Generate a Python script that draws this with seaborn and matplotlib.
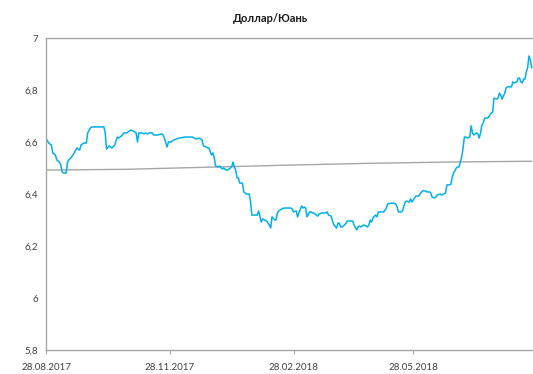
import numpy as np
import pandas as pd
import matplotlib
matplotlib.use("Agg")
import matplotlib.pyplot as plt
import matplotlib.dates as mdates
from matplotlib.ticker import FuncFormatter
import seaborn as sns

# USD/CNY exchange rate: days since 28.08.2017 and the rate on that day
start_date = "2017-08-28"
rate_days = [
    0, 2, 4, 5, 7, 8, 10, 11, 12, 13, 15, 16, 17, 19, 21, 22, 23, 25, 26, 28,
    30, 31, 33, 34, 43, 44, 45, 47, 48, 49, 51, 53, 54, 56, 58, 60,
    63, 65, 67, 68, 69, 71, 73, 74, 75, 77, 79, 80, 83, 86, 87, 88, 90, 91,
    93, 95, 99, 103, 106, 109, 110, 112, 114, 116, 117, 119, 120,
    121, 123, 124, 125, 126, 128, 129, 131, 132, 134, 135, 138, 139, 140, 141,
    142, 143, 144, 146, 147, 149, 151, 152, 153, 155, 157, 158, 159, 160, 161,
    164, 165, 166, 167, 168, 170, 171, 172, 173, 175, 177, 179,
    182, 183, 184, 186, 187, 188, 190, 191, 192, 193, 194, 196, 197, 198, 199,
    201, 202, 203, 205, 206, 208, 209, 210, 212, 213, 214, 216, 217, 218, 219,
    220, 222, 223, 224, 227, 228, 229, 231, 232, 233, 234, 236, 238,
    239, 240, 241, 242, 243, 245, 246, 247, 249, 251, 253, 254, 257, 258, 260,
    261, 262, 264, 265, 267, 268, 270, 271, 272, 274, 275, 277, 278, 280, 282,
    283, 285, 286, 287, 289, 291, 293, 294, 297, 298, 300, 301, 302, 303, 305,
    306, 307, 309, 310, 311, 312, 313, 315, 316, 317, 318, 320, 321, 322, 323,
    324, 325, 326, 328, 329, 331, 332, 333, 335, 336, 337, 338, 339, 341, 342,
    343, 344, 346, 347, 348, 350, 351, 352, 353, 354, 355, 356, 357, 358, 359,
    360, 361,
]
rate_values = [
    6.615, 6.596, 6.588, 6.558, 6.550, 6.531, 6.523, 6.512, 6.485, 6.481, 6.481,
    6.523, 6.531, 6.542, 6.558, 6.569, 6.577, 6.569, 6.588, 6.596,
    6.596, 6.635, 6.654, 6.658, 6.658, 6.635, 6.573, 6.585, 6.581, 6.577, 6.588,
    6.619, 6.615, 6.623, 6.635, 6.635,
    6.646, 6.642, 6.635, 6.600, 6.635, 6.635, 6.631, 6.635, 6.631, 6.635, 6.635,
    6.627, 6.627, 6.631, 6.627, 6.615, 6.581, 6.600,
    6.600, 6.608, 6.615, 6.619, 6.619, 6.619, 6.615, 6.612, 6.615, 6.608, 6.585,
    6.581, 6.577,
    6.577, 6.550, 6.558, 6.542, 6.508, 6.504, 6.508, 6.496, 6.500, 6.492, 6.492,
    6.504, 6.523, 6.504, 6.492,
    6.462, 6.462, 6.442, 6.442, 6.408, 6.400, 6.400, 6.373, 6.319, 6.319, 6.319,
    6.335, 6.315, 6.292, 6.304,
    6.296, 6.288, 6.281, 6.269, 6.312, 6.300, 6.300, 6.327, 6.335, 6.342, 6.346,
    6.346,
    6.346, 6.342, 6.331, 6.335, 6.312, 6.327, 6.354, 6.346, 6.350, 6.346, 6.312,
    6.331, 6.331, 6.327, 6.327,
    6.319, 6.315, 6.323, 6.327, 6.327, 6.327, 6.331, 6.319, 6.315, 6.296, 6.281,
    6.269, 6.288, 6.288, 6.273,
    6.273, 6.281, 6.288, 6.296, 6.296, 6.296, 6.281, 6.262, 6.273, 6.277, 6.273,
    6.281, 6.277,
    6.273, 6.281, 6.300, 6.292, 6.308, 6.319, 6.312, 6.331, 6.331, 6.331, 6.346,
    6.362, 6.365, 6.365, 6.362,
    6.350, 6.331, 6.331, 6.335, 6.369, 6.373, 6.369, 6.381, 6.369, 6.385, 6.392,
    6.392, 6.400, 6.412, 6.412,
    6.408, 6.408, 6.404, 6.388, 6.385, 6.396, 6.400, 6.396, 6.404, 6.435, 6.435,
    6.438, 6.465, 6.481, 6.500,
    6.504, 6.504, 6.542, 6.577, 6.619, 6.619, 6.615, 6.619, 6.662, 6.635, 6.627,
    6.635, 6.631, 6.615, 6.635,
    6.665, 6.673, 6.692, 6.692, 6.696, 6.712, 6.715, 6.769, 6.765, 6.769, 6.788,
    6.781, 6.765, 6.788, 6.808,
    6.812, 6.812, 6.812, 6.831, 6.827, 6.831, 6.846, 6.846, 6.831, 6.827, 6.842,
    6.842, 6.869, 6.885, 6.931,
    6.915, 6.885,
]

# Long-run average level (grey reference line)
avg_days = [0, 60, 120, 180, 240, 300, 361]
avg_values = [6.492, 6.495, 6.503, 6.511, 6.518, 6.523, 6.526]

title = "Доллар/Юань"
y_ticks = [5.8, 6.0, 6.2, 6.4, 6.6, 6.8, 7.0]
x_tick_labels = ["2017-08-28", "2017-11-28", "2018-02-28", "2018-05-28"]

start = pd.Timestamp(start_date)
rate = pd.DataFrame({
    "date": start + pd.to_timedelta(rate_days, unit="D"),
    "value": rate_values,
})
avg = pd.DataFrame({
    "date": start + pd.to_timedelta(avg_days, unit="D"),
    "value": avg_values,
})

sns.set_style("white")
plt.rcParams["font.family"] = ["Lato", "DejaVu Sans"]

fig = plt.figure(figsize=(5.33, 3.74), dpi=100)
ax = fig.add_axes([46 / 533, 24 / 374, 1 - 46 / 533, 312 / 374])

sns.lineplot(data=avg, x="date", y="value", ax=ax, color="#a6a6a6", linewidth=1.0)
sns.lineplot(data=rate, x="date", y="value", ax=ax, color="#00b0f0", linewidth=1.1)

ax.set_xlim(start, start + pd.Timedelta(days=362))
ax.set_ylim(5.8, 7.0)
ax.set_yticks(y_ticks)
ax.yaxis.set_major_formatter(FuncFormatter(lambda v, _: f"{v:g}".replace(".", ",")))
ax.set_xticks(pd.to_datetime(x_tick_labels))
ax.xaxis.set_major_formatter(mdates.DateFormatter("%d.%m.%Y"))

ax.set_xlabel("")
ax.set_ylabel("")
ax.tick_params(axis="y", length=0, pad=6, labelsize=7, colors="#404040")
ax.tick_params(axis="x", length=3, width=0.8, color="#a6a6a6", pad=6,
               labelsize=7, labelcolor="#404040", direction="out", bottom=True)

for side in ["left", "bottom", "top"]:
    ax.spines[side].set_color("#a6a6a6")
    ax.spines[side].set_linewidth(1.0)
ax.spines["right"].set_visible(False)

fig.text(0.507, 0.95, title, ha="center", va="center",
         fontsize=8, fontweight="bold", color="#1a1a1a")

fig.savefig("out.png", dpi=100)
